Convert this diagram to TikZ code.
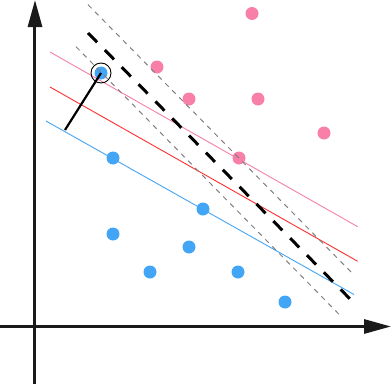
\documentclass[tikz,border=0pt]{standalone}
\usetikzlibrary{arrows.meta}
\usepackage{xcolor}
\definecolor{MarginPink}{HTML}{F77FA8}
\definecolor{MarginBlue}{HTML}{42A5F5}
\definecolor{MarginRed}{HTML}{FF2E2E}
\definecolor{AxisBlack}{HTML}{1A1A1A}

\begin{document}
\begin{tikzpicture}[%
    x=1pt, y=1pt,%
    axis/.style={draw=AxisBlack, line width=3pt, -{Triangle[length=27pt, width=14pt]}},%
    pinkdot/.style={fill=MarginPink},%
    bluedot/.style={fill=MarginBlue},%
    margin/.style={line width=0.9pt},%
    guide/.style={draw=gray, line width=1pt, dash pattern=on 5pt off 5pt},%
    badline/.style={draw=black, line width=3pt, dash pattern=on 13pt off 11pt}%
  ]
  \useasboundingbox (-35,-57.5) rectangle (356,326.5);%

  %
  % Axes
  %
  \coordinate (origin) at (0,0);%
  \draw[axis] (-35,0) -- (356,0);%
  \draw[axis] (0,-57.5) -- (0,326.5);%

  %
  % Points
  %
  \foreach \x/\y in {217/313, 122/259.5, 154/227.5, 223/227.5, 289/193.5, 204/168.5} {%
      \fill[pinkdot] (\x,\y) circle[radius=6.5];%
    }%
  \foreach \x/\y in {66/253.5, 78/168.5, 168/117.5, 78/92.5, 154/79.5, 115/54.5, 203/54.5, 250/24.5} {%
      \fill[bluedot] (\x,\y) circle[radius=6.5];%
    }%

  %
  % Marges
  %
  \draw[margin, MarginPink] (15,274.5) -- (322.7,99.8);%
  \draw[margin, MarginRed] (15,239.5) -- (322.7,65.2);%
  \draw[margin, MarginBlue] (11,205.5) -- (319,32);%

  %
  % Droite mal placee
  %
  \draw[guide] (53,321.8) -- (318,52.5);%
  \draw[guide] (41,279.8) -- (307,9.2);%
  \draw[badline] (53,293.5) -- (319,23.5);%

  %
  % Vecteur support
  %
  \coordinate (support) at (66,253.5);%
  \coordinate (foot) at (30,196.5);%
  \draw[line width=0.9pt] (support) circle[radius=10];%
  \draw[line width=2.2pt] (support) -- (foot);%
\end{tikzpicture}
\end{document}
